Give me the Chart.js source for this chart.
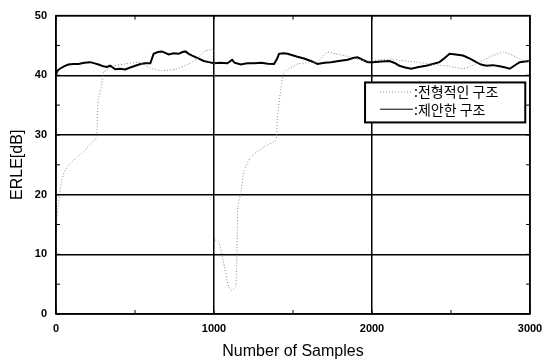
<!DOCTYPE html>
<html>
<head>
<meta charset="utf-8">
<script src="https://cdn.jsdelivr.net/npm/chart.js@4.4.1/dist/chart.umd.min.js"></script>
<style>
  html, body { margin: 0; padding: 0; background: #fff; }
  #wrap { width: 545px; height: 362px; position: relative; }
</style>
</head>
<body>
<div id="wrap"><canvas id="c" width="545" height="362"></canvas></div>
<script>
// ---- data ----
const seriesLabels = [":전형적인 구조", ":제안한 구조"];
const xTickLabels = ["0", "1000", "2000", "3000"];
const yTickLabels = ["0", "10", "20", "30", "40", "50"];

// conventional structure (dotted)
const convX = [0, 15, 36, 60, 89, 130, 173, 216, 254, 258, 267, 290, 300, 322, 364, 440, 520, 560, 607, 671, 756, 840, 904, 946, 1000,
               1004, 1030, 1062, 1092, 1115, 1137, 1143, 1147, 1151, 1172, 1190, 1232, 1316, 1390, 1397, 1401, 1422, 1443, 1486, 1528,
               1600, 1655, 1690, 1719, 1770, 1824, 1888, 1973, 2050, 2121, 2173, 2280, 2385, 2491, 2576, 2620, 2660, 2710, 2766, 2830,
               2893, 2957, 3000];
const convY = [14, 18.5, 22.5, 24.2, 25.2, 26.2, 27.1, 28.4, 29.5, 30.2, 35.8, 38.6, 40.5, 40.9, 41.6, 41.9, 42.2, 41.7, 41.1, 40.8, 41.0, 41.9, 43.0, 44.1, 44.2,
               12.5, 12.1, 8.5, 4.6, 3.9, 4.6, 7.4, 12.9, 17.9, 20.7, 24.0, 26.3, 28.0, 29.1, 30.0, 33.0, 37.5, 40.5, 41.3, 41.9,
               42.1, 42.2, 43.2, 43.9, 43.6, 43.3, 42.8, 42.4, 42.6, 42.7, 42.5, 42.2, 41.8, 41.5, 41.1, 41.5, 41.9, 42.6, 43.3, 43.9,
               43.3, 42.5, 42.2];

// proposed structure (solid)
const propX = [0, 10, 25, 50, 78, 110, 142, 180, 216, 245, 269, 300, 322, 343, 375, 405, 438, 470, 502, 535, 565, 597,
               618, 645, 671, 713, 745, 777, 800, 819, 840, 862, 904, 935, 967, 1000, 1040, 1084, 1100, 1115, 1130, 1168,
               1210, 1253, 1300, 1340, 1380, 1400, 1411, 1440, 1465, 1528, 1570, 1613, 1655, 1700, 1740, 1790, 1846, 1880,
               1909, 1940, 1973, 2004, 2060, 2110, 2140, 2173, 2210, 2248, 2295, 2343, 2385, 2427, 2460, 2491, 2530, 2576,
               2620, 2660, 2690, 2724, 2765, 2808, 2845, 2872, 2900, 2935, 2970, 3000];
const propY = [40.1, 40.8, 41.1, 41.5, 41.8, 41.9, 41.9, 42.1, 42.2, 42.0, 41.8, 41.5, 41.4, 41.6, 41.0, 41.1, 40.97, 41.3, 41.6, 41.9, 42.0, 42.0,
               43.6, 43.9, 44.0, 43.5, 43.7, 43.6, 43.9, 44.0, 43.6, 43.3, 42.8, 42.4, 42.2, 42.0, 42.1, 42.0, 42.3, 42.6, 42.1, 41.8,
               42.0, 42.0, 42.1, 41.95, 41.9, 42.8, 43.6, 43.7, 43.6, 43.1, 42.8, 42.4, 41.9, 42.1, 42.2, 42.4, 42.6, 42.9,
               43.0, 42.6, 42.2, 42.2, 42.3, 42.4, 42.1, 41.6, 41.3, 41.1, 41.4, 41.6, 41.9, 42.2, 42.9, 43.6, 43.5, 43.3,
               42.8, 42.2, 41.8, 41.6, 41.7, 41.5, 41.3, 41.1, 41.6, 42.2, 42.3, 42.4];

const toPts = (xs, ys) => xs.map((x, i) => ({ x: x, y: ys[i] }));

// ---- plugins ----
const framePlugin = {
  id: 'frame',
  afterDraw(chart) {
    const { ctx, chartArea: a, scales } = chart;
    ctx.save();
    ctx.strokeStyle = '#000';
    ctx.lineWidth = 1.5;
    ctx.strokeRect(a.left, a.top, a.right - a.left, a.bottom - a.top);
    // inward minor tick marks
    ctx.lineWidth = 1;
    scales.x.ticks.forEach(t => {
      const px = scales.x.getPixelForValue(t.value);
      ctx.beginPath(); ctx.moveTo(px, a.bottom); ctx.lineTo(px, a.bottom - 4); ctx.stroke();
      ctx.beginPath(); ctx.moveTo(px, a.top); ctx.lineTo(px, a.top + 4); ctx.stroke();
    });
    scales.y.ticks.forEach(t => {
      const py = scales.y.getPixelForValue(t.value);
      ctx.beginPath(); ctx.moveTo(a.left, py); ctx.lineTo(a.left + 4, py); ctx.stroke();
      ctx.beginPath(); ctx.moveTo(a.right, py); ctx.lineTo(a.right - 4, py); ctx.stroke();
    });
    ctx.restore();
  }
};

const legendBoxPlugin = {
  id: 'legendBox',
  afterDraw(chart) {
    const { ctx, chartArea: a } = chart;
    const w = a.right - a.left, h = a.bottom - a.top;
    const bx = a.left + w * 0.652, by = a.top + h * 0.224;
    const bw = w * 0.338, bh = h * 0.134;
    ctx.save();
    ctx.fillStyle = '#fff';
    ctx.fillRect(bx, by, bw, bh);
    ctx.strokeStyle = '#000';
    ctx.lineWidth = 2;
    ctx.strokeRect(bx, by, bw, bh);
    chart.data.datasets.forEach((ds, i) => {
      const cy = by + bh * (0.24 + i * 0.43);
      ctx.beginPath();
      ctx.strokeStyle = ds.borderColor;
      ctx.lineWidth = 1;
      ctx.setLineDash(ds.borderDash || []);
      ctx.moveTo(bx + 15, cy);
      ctx.lineTo(bx + 48, cy);
      ctx.stroke();
      ctx.setLineDash([]);
      ctx.fillStyle = '#000';
      ctx.font = '14px "Noto Sans CJK KR", sans-serif';
      ctx.textBaseline = 'middle';
      ctx.textAlign = 'left';
      ctx.fillText(ds.label, bx + 49, cy);
    });
    ctx.restore();
  }
};

const gridCol = (ctx) => {
  const v = ctx.tick ? ctx.tick.value : null;
  return v !== null && v % 1000 === 0 ? '#000' : 'rgba(0,0,0,0)';
};
const gridColY = (ctx) => {
  const v = ctx.tick ? ctx.tick.value : null;
  return v !== null && v % 10 === 0 ? '#000' : 'rgba(0,0,0,0)';
};

new Chart(document.getElementById('c'), {
  type: 'line',
  data: {
    datasets: [
      {
        label: seriesLabels[0],
        data: toPts(convX, convY),
        borderColor: '#8a8a8a',
        borderWidth: 1,
        borderDash: [1, 2],
        pointRadius: 0,
        tension: 0.15,
        fill: false
      },
      {
        label: seriesLabels[1],
        data: toPts(propX, propY),
        borderColor: '#000',
        borderWidth: 2,
        pointRadius: 0,
        tension: 0,
        fill: false
      }
    ]
  },
  options: {
    responsive: false,
    animation: false,
    layout: { padding: { top: 15, right: 15, left: 0, bottom: 0 } },
    plugins: { legend: { display: false }, tooltip: { enabled: false } },
    scales: {
      x: {
        type: 'linear',
        min: 0, max: 3000,
        afterFit(s) { s.height = 48; s.paddingRight = 0; s.paddingLeft = 0; },
        border: { display: false },
        grid: { color: gridCol, lineWidth: 1.5, drawTicks: false },
        ticks: {
          stepSize: 500,
          padding: 8,
          color: '#000',
          font: { family: '"Liberation Sans", Arial, sans-serif', size: 11, weight: 'bold' },
          maxRotation: 0,
          autoSkip: false,
          callback: (v) => (v % 1000 === 0 ? xTickLabels[v / 1000] : '')
        },
        title: {
          display: true,
          text: 'Number of Samples',
          color: '#000',
          font: { family: '"Liberation Sans", Arial, sans-serif', size: 16 },
          padding: { top: 0, bottom: 1 }
        }
      },
      y: {
        type: 'linear',
        min: 0, max: 50,
        afterFit(s) { s.width = 56; },
        border: { display: false },
        grid: { color: gridColY, lineWidth: 1.5, drawTicks: false },
        ticks: {
          stepSize: 5,
          padding: 9,
          color: '#000',
          font: { family: '"Liberation Sans", Arial, sans-serif', size: 11, weight: 'bold' },
          autoSkip: false,
          callback: (v) => (v % 10 === 0 ? yTickLabels[v / 10] : '')
        },
        title: {
          display: true,
          text: 'ERLE[dB]',
          color: '#000',
          font: { family: '"Liberation Sans", Arial, sans-serif', size: 16 },
          padding: { top: 8, bottom: 0 }
        }
      }
    }
  },
  plugins: [framePlugin, legendBoxPlugin]
});
</script>
</body>
</html>
